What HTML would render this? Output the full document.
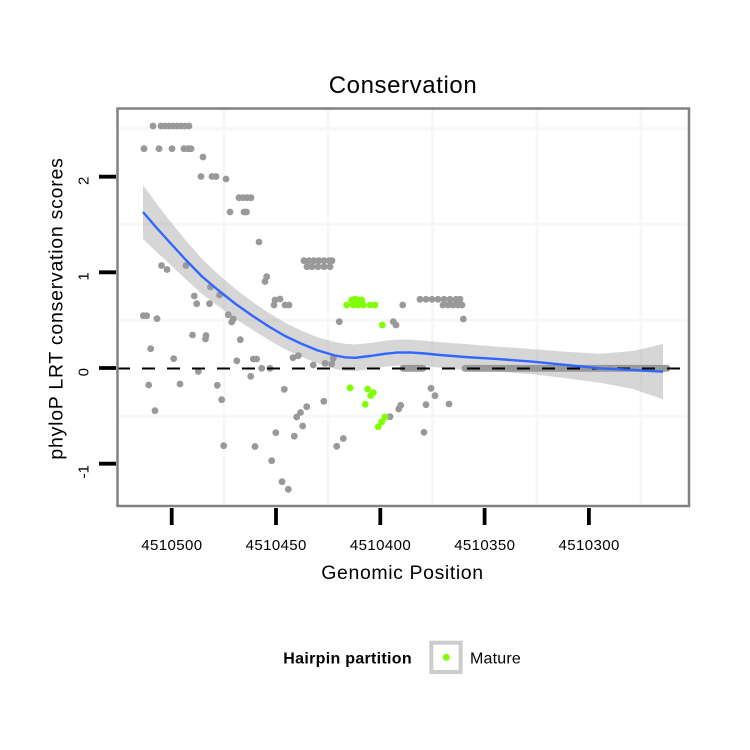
<!DOCTYPE html>
<html>
<head>
<meta charset="utf-8">
<style>
html,body{margin:0;padding:0;background:#fff;}
svg{display:block;}
text{font-family:"Liberation Sans",Arial,sans-serif;fill:#000;}
</style>
</head>
<body>
<svg width="750" height="750" viewBox="0 0 750 750" xmlns="http://www.w3.org/2000/svg">
<rect x="0" y="0" width="750" height="750" fill="#fff"/>

<!-- title -->
<text x="403" y="93" font-size="24" letter-spacing="0.6" text-anchor="middle">Conservation</text>

<!-- grid (minor) -->
<g stroke="#f7f7f7" stroke-width="3">
<line x1="224" y1="109" x2="224" y2="506"/>
<line x1="328" y1="109" x2="328" y2="506"/>
<line x1="432.5" y1="109" x2="432.5" y2="506"/>
<line x1="537" y1="109" x2="537" y2="506"/>
<line x1="641" y1="109" x2="641" y2="506"/>
<line x1="118" y1="128.7" x2="689" y2="128.7"/>
<line x1="118" y1="224.3" x2="689" y2="224.3"/>
<line x1="118" y1="320.2" x2="689" y2="320.2"/>
<line x1="118" y1="416.2" x2="689" y2="416.2"/>
</g>

<!-- gray points -->
<g fill="#999999">
<circle cx="153" cy="126" r="3.4"/><circle cx="161" cy="126" r="3.4"/><circle cx="165" cy="126" r="3.4"/><circle cx="169" cy="126" r="3.4"/><circle cx="173" cy="126" r="3.4"/><circle cx="177" cy="126" r="3.4"/><circle cx="181" cy="126" r="3.4"/><circle cx="185" cy="126" r="3.4"/><circle cx="189" cy="126" r="3.4"/>
<circle cx="144" cy="148.7" r="3.4"/><circle cx="159" cy="148.7" r="3.4"/><circle cx="172" cy="148.7" r="3.4"/><circle cx="184" cy="148.7" r="3.4"/><circle cx="188" cy="148.7" r="3.4"/><circle cx="191" cy="148.7" r="3.4"/>
<circle cx="203" cy="157" r="3.4"/>
<circle cx="201" cy="176.5" r="3.4"/><circle cx="212" cy="176.5" r="3.4"/><circle cx="216" cy="176.5" r="3.4"/><circle cx="226" cy="179" r="3.4"/>
<circle cx="239" cy="197.7" r="3.4"/><circle cx="243" cy="197.7" r="3.4"/><circle cx="247" cy="197.7" r="3.4"/><circle cx="251" cy="197.7" r="3.4"/>
<circle cx="230" cy="212" r="3.4"/><circle cx="244" cy="212" r="3.4"/><circle cx="246.5" cy="212" r="3.4"/>
<circle cx="259" cy="242" r="3.4"/>
<circle cx="161.5" cy="265.5" r="3.4"/><circle cx="167" cy="269.5" r="3.4"/><circle cx="186" cy="265.5" r="3.4"/>
<circle cx="266.7" cy="276.7" r="3.4"/><circle cx="265" cy="281.5" r="3.4"/>
<circle cx="210.5" cy="287" r="3.4"/>
<circle cx="194.3" cy="296" r="3.4"/><circle cx="219.5" cy="295" r="3.4"/><circle cx="196.7" cy="303.7" r="3.4"/><circle cx="209.5" cy="303.7" r="3.4"/>
<circle cx="275" cy="300" r="3.4"/><circle cx="280" cy="299" r="3.4"/><circle cx="274" cy="305" r="3.4"/><circle cx="285" cy="305" r="3.4"/><circle cx="289" cy="305" r="3.4"/>
<circle cx="304" cy="260.7" r="3.4"/><circle cx="309" cy="260.7" r="3.4"/><circle cx="314" cy="260.7" r="3.4"/><circle cx="319" cy="260.7" r="3.4"/><circle cx="324" cy="260.7" r="3.4"/><circle cx="329" cy="260.7" r="3.4"/><circle cx="332" cy="260.7" r="3.4"/>
<circle cx="307" cy="266.7" r="3.4"/><circle cx="312" cy="266.7" r="3.4"/><circle cx="318" cy="266.7" r="3.4"/><circle cx="324" cy="266.7" r="3.4"/><circle cx="330" cy="266.7" r="3.4"/>
<circle cx="143.3" cy="315.7" r="3.4"/><circle cx="146.7" cy="315.7" r="3.4"/><circle cx="157" cy="318.7" r="3.4"/>
<circle cx="228.3" cy="314.7" r="3.4"/><circle cx="233.3" cy="319" r="3.4"/><circle cx="231.7" cy="322" r="3.4"/>
<circle cx="192.5" cy="335" r="3.4"/><circle cx="206" cy="335.5" r="3.4"/><circle cx="205.5" cy="339" r="3.4"/>
<circle cx="240.3" cy="339.7" r="3.4"/>
<circle cx="150.7" cy="348.7" r="3.4"/>
<circle cx="173.7" cy="358.7" r="3.4"/><circle cx="236.8" cy="360.8" r="3.4"/><circle cx="253.3" cy="359" r="3.4"/><circle cx="256.7" cy="359" r="3.4"/>
<circle cx="293" cy="357.7" r="3.4"/><circle cx="298.3" cy="355.7" r="3.4"/>
<circle cx="313.3" cy="365" r="3.4"/><circle cx="325" cy="363.3" r="3.4"/><circle cx="331.7" cy="364" r="3.4"/><circle cx="333.3" cy="358.3" r="3.4"/>
<circle cx="261.7" cy="368.3" r="3.4"/><circle cx="270" cy="368.3" r="3.4"/>
<circle cx="198.3" cy="371.5" r="3.4"/>
<circle cx="250.7" cy="376.3" r="3.4"/>
<circle cx="148.7" cy="385" r="3.4"/><circle cx="180" cy="384" r="3.4"/><circle cx="217.3" cy="385.3" r="3.4"/>
<circle cx="284.3" cy="389.3" r="3.4"/>
<circle cx="221.7" cy="399.7" r="3.4"/>
<circle cx="155" cy="410.7" r="3.4"/>
<circle cx="306.7" cy="406.7" r="3.4"/><circle cx="300.5" cy="412.5" r="3.4"/><circle cx="296.7" cy="417" r="3.4"/>
<circle cx="302.7" cy="426" r="3.4"/>
<circle cx="323.8" cy="401.3" r="3.4"/>
<circle cx="275.8" cy="432.7" r="3.4"/><circle cx="294.3" cy="436.2" r="3.4"/>
<circle cx="223.7" cy="445.7" r="3.4"/><circle cx="255" cy="446.5" r="3.4"/>
<circle cx="271.7" cy="460.7" r="3.4"/>
<circle cx="282" cy="481.7" r="3.4"/><circle cx="288.3" cy="489.3" r="3.4"/>
<circle cx="343.3" cy="438.5" r="3.4"/><circle cx="336.7" cy="446.3" r="3.4"/>
<circle cx="339.3" cy="321.7" r="3.4"/>
<circle cx="393.3" cy="321.7" r="3.4"/><circle cx="396" cy="325" r="3.4"/>
<circle cx="402.7" cy="305" r="3.4"/>
<circle cx="420" cy="299.3" r="3.4"/><circle cx="426" cy="299.3" r="3.4"/><circle cx="432" cy="299.3" r="3.4"/><circle cx="438" cy="299.3" r="3.4"/><circle cx="444" cy="299.3" r="3.4"/><circle cx="450" cy="299.3" r="3.4"/><circle cx="456" cy="299.3" r="3.4"/><circle cx="460" cy="299.3" r="3.4"/>
<circle cx="443" cy="305" r="3.4"/><circle cx="448" cy="305" r="3.4"/><circle cx="453" cy="305" r="3.4"/><circle cx="458" cy="305" r="3.4"/><circle cx="462" cy="305" r="3.4"/>
<circle cx="463.3" cy="319" r="3.4"/>
<circle cx="431" cy="388.3" r="3.4"/><circle cx="435" cy="395.7" r="3.4"/><circle cx="426" cy="404.7" r="3.4"/><circle cx="449" cy="404" r="3.4"/><circle cx="400.7" cy="405.3" r="3.4"/><circle cx="398.7" cy="409" r="3.4"/><circle cx="390" cy="416.7" r="3.4"/><circle cx="424" cy="432.3" r="3.4"/>
</g>
<!-- dense zero-valued points -->
<g stroke="#999999" stroke-width="6.8" stroke-linecap="round">
<line x1="403" y1="368.3" x2="423" y2="368.3"/>
<line x1="465" y1="368.3" x2="667" y2="368.3"/>
</g>

<!-- green (Mature) points -->
<g fill="#80ff00">
<circle cx="351.7" cy="300" r="3.4"/><circle cx="355" cy="299" r="3.4"/><circle cx="358.3" cy="300" r="3.4"/><circle cx="361.7" cy="300" r="3.4"/>
<circle cx="346.7" cy="305" r="3.4"/><circle cx="353.3" cy="305" r="3.4"/><circle cx="358" cy="305" r="3.4"/><circle cx="363.3" cy="305" r="3.4"/><circle cx="370" cy="305" r="3.4"/><circle cx="375" cy="305" r="3.4"/>
<circle cx="382.3" cy="325" r="3.4"/>
<circle cx="350" cy="387.8" r="3.4"/>
<circle cx="367.6" cy="389" r="3.4"/><circle cx="373.3" cy="392.7" r="3.4"/><circle cx="370.6" cy="395.6" r="3.4"/><circle cx="365.3" cy="404.3" r="3.4"/>
<circle cx="385" cy="417" r="3.4"/><circle cx="381.7" cy="421.7" r="3.4"/><circle cx="378.3" cy="426.7" r="3.4"/>
</g>

<!-- confidence ribbon -->
<path fill="#999999" fill-opacity="0.4" d="M143,185 L155,201.5 L168,218.5 L185,239.5 L202,259 L218,274 L235,288.5 L252,301.5 L268,312.5 L285,322.8 L302,331 L318,337.5 L335,342 L345,343.8 L355,344.5 L370,343 L385,340.8 L397,339.6 L410,339.6 L425,340.8 L440,342.3 L465,344 L490,346.1 L500,346.7 L533,349.1 L566,351.8 L600,353.8 L633,351 L663,344
L663,399.4 L633,389 L600,382.8 L566,378.2 L533,374.3 L500,371.7 L490,371.1 L465,370 L440,367.7 L425,366.2 L410,365.2 L397,365.6 L385,366.8 L370,369 L355,371.1 L345,370.8 L335,369 L318,363.5 L302,357 L285,349.2 L268,339.5 L252,329.5 L235,318.5 L218,306 L202,294 L185,278.5 L168,262.5 L155,250.5 L143,239 Z"/>

<!-- dashed zero line -->
<line x1="117" y1="368.5" x2="689" y2="368.5" stroke="#000" stroke-width="2" stroke-dasharray="13 12"/>

<!-- smooth line -->
<path fill="none" stroke="#3366ff" stroke-width="2.4" stroke-linejoin="round" d="M143,212 L155,226 L168,240.5 L185,259 L202,276.5 L218,290 L235,303.5 L252,315.5 L268,326 L285,336 L302,344 L318,350.5 L335,355.5 L345,357.3 L355,357.8 L370,356 L385,353.8 L397,352.6 L410,352.4 L425,353.5 L440,355 L465,357 L490,358.6 L500,359.2 L533,361.7 L566,365 L600,368.3 L633,370 L663,371.7"/>

<!-- panel border -->
<rect x="117.5" y="108.5" width="571.5" height="397.5" fill="none" stroke="#808080" stroke-width="2.5"/>

<!-- y ticks -->
<g stroke="#000" stroke-width="3.8">
<line x1="99" y1="176.7" x2="116" y2="176.7"/>
<line x1="99" y1="272.3" x2="116" y2="272.3"/>
<line x1="99" y1="368" x2="116" y2="368"/>
<line x1="99" y1="463.7" x2="116" y2="463.7"/>
</g>
<g font-size="15" text-anchor="end">
<text transform="translate(88.5,176.7) rotate(-90)">2</text>
<text transform="translate(88.5,272.3) rotate(-90)">1</text>
<text transform="translate(88.5,368) rotate(-90)">0</text>
<text transform="translate(88.5,465) rotate(-90)">-1</text>
</g>

<!-- x ticks -->
<g stroke="#000" stroke-width="3.8">
<line x1="171.7" y1="508" x2="171.7" y2="525"/>
<line x1="276" y1="508" x2="276" y2="525"/>
<line x1="380.3" y1="508" x2="380.3" y2="525"/>
<line x1="484.6" y1="508" x2="484.6" y2="525"/>
<line x1="588.9" y1="508" x2="588.9" y2="525"/>
</g>
<g font-size="15" letter-spacing="0.4" text-anchor="middle">
<text x="171.9" y="550">4510500</text>
<text x="276.2" y="550">4510450</text>
<text x="380.5" y="550">4510400</text>
<text x="484.8" y="550">4510350</text>
<text x="589.1" y="550">4510300</text>
</g>

<!-- axis titles -->
<text x="402.5" y="579" font-size="19.5" letter-spacing="0.6" text-anchor="middle">Genomic Position</text>
<text transform="translate(62.5,308.5) rotate(-90)" font-size="19.5" letter-spacing="0.75" text-anchor="middle">phyloP LRT conservation scores</text>

<!-- legend -->
<text x="283.3" y="663.3" font-size="16" font-weight="bold" letter-spacing="0.3">Hairpin partition</text>
<rect x="431.3" y="642.7" width="29.3" height="29.3" fill="#fff" stroke="#cccccc" stroke-width="4"/>
<circle cx="446.3" cy="657.3" r="3.5" fill="#80ff00"/>
<text x="470" y="663.3" font-size="16" letter-spacing="0.2">Mature</text>
</svg>
</body>
</html>
